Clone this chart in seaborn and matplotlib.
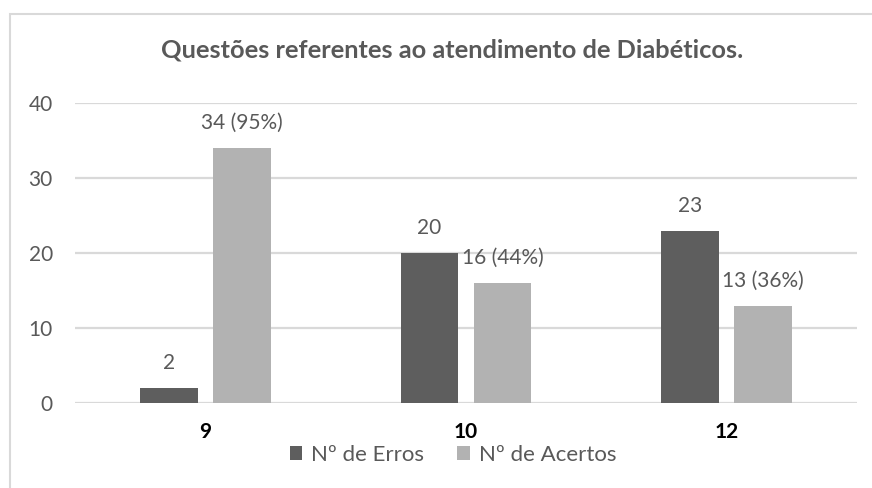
import matplotlib
matplotlib.use("Agg")
import matplotlib.pyplot as plt
import seaborn as sns
import pandas as pd
from matplotlib.patches import Rectangle, Patch

categories = ["9", "10", "12"]
series_names = ["Nº de Erros", "Nº de Acertos"]
erros = [2, 20, 23]
acertos = [34, 16, 13]
label_erros = ["2", "20", "23"]
label_acertos = ["34 (95%)", "16 (44%)", "13 (36%)"]
yticks = [0, 10, 20, 30, 40]
title = "Questões referentes ao atendimento de Diabéticos."

colors = ["#5e5e5e", "#b2b2b2"]
txt_gray = "#595959"

df = pd.DataFrame({
    "cat": categories * 2,
    "serie": [series_names[0]] * 3 + [series_names[1]] * 3,
    "valor": erros + acertos,
})

sns.set_theme(style="white")
plt.rcParams["font.family"] = ["Lato", "DejaVu Sans"]

fig = plt.figure(figsize=(8.72, 4.88), dpi=100)
ax = fig.add_axes([75 / 872, 1 - 403 / 488, 782 / 872, 300 / 488])

sns.barplot(data=df, x="cat", y="valor", hue="serie", order=categories,
            hue_order=series_names, palette=colors, width=0.56, gap=0.21,
            saturation=1, ax=ax, legend=False, edgecolor="none")

ax.set_xlim(-0.5, 2.5)
ax.set_ylim(0, 40)
ax.set_yticks(yticks)
ax.yaxis.grid(True, color="#d9d9d9", linewidth=1.6)
ax.set_axisbelow(True)
for s in ax.spines.values():
    s.set_visible(False)
ax.set_xlabel("")
ax.set_ylabel("")
ax.tick_params(axis="y", length=0, pad=16, labelsize=15, labelcolor=txt_gray)
ax.tick_params(axis="x", length=0, pad=14, labelsize=15, labelcolor="black")
for t in ax.get_xticklabels():
    t.set_fontweight("bold")

# annotations
for cont, labels in zip(ax.containers, [label_erros, label_acertos]):
    for bar, lab in zip(cont, labels):
        x = bar.get_x() + bar.get_width() / 2
        ax.annotate(lab, (x, bar.get_height()), xytext=(0, 25), textcoords="offset pixels",
                    ha="center", va="center", fontsize=15, color=txt_gray,
                    annotation_clip=False)

fig.text(452 / 872, 1 - 50 / 488, title, ha="center", va="center",
         fontsize=18.3, fontweight="bold", color=txt_gray)

handles = [Patch(facecolor=c, edgecolor="none") for c in colors]
fig.legend(handles, series_names, loc="center", bbox_to_anchor=(453 / 872, 1 - 455 / 488),
           ncol=2, frameon=False, fontsize=16, labelcolor=txt_gray,
           handlelength=0.55, handleheight=0.55, handletextpad=0.4, columnspacing=1.5)

# outer border
fig.patches.append(Rectangle((10 / 872, -0.1), 1.2, 1 - 14 / 488 + 0.1,
                             transform=fig.transFigure, fill=False,
                             edgecolor="#d9d9d9", linewidth=1.5))

fig.savefig("out.png", dpi=100, facecolor="white")
